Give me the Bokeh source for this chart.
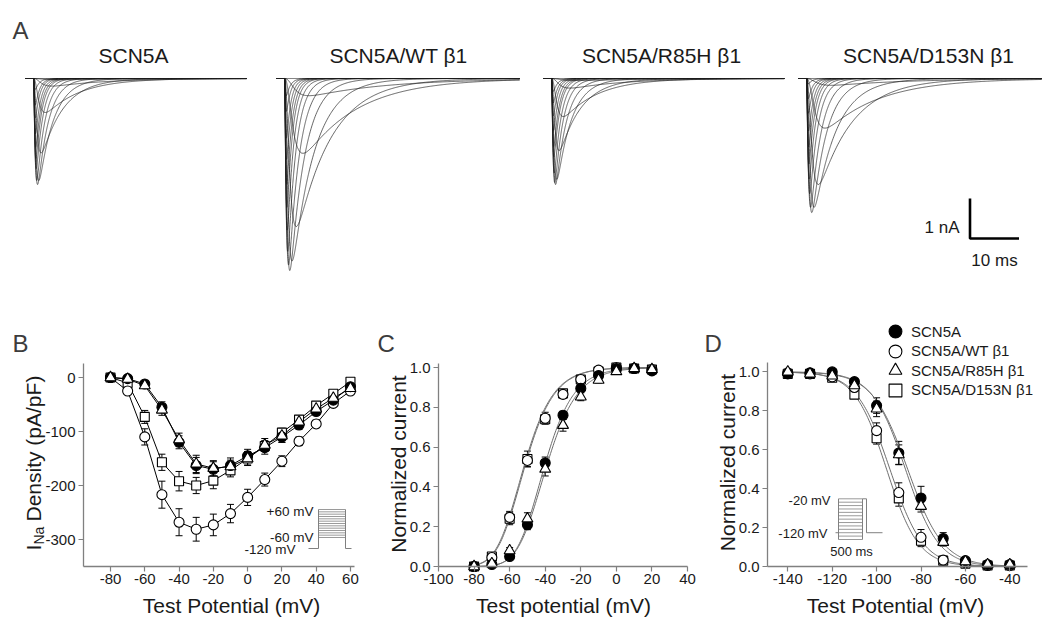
import numpy as np
from bokeh.plotting import figure
from bokeh.models import (ColumnDataSource, Label, Legend, LegendItem, Whisker, TeeHead,
                          FixedTicker, PrintfTickFormatter, Range1d, LinearAxis)
from bokeh.embed import file_html
from bokeh.resources import INLINE

FONT = "Liberation Sans"

# ---------------------------------------------------------------- data
groups = ["SCN5A", "SCN5A/WT β1", "SCN5A/R85H β1", "SCN5A/D153N β1"]

# Panel A: test steps (mV) and peak inward current of each trace (nA)
trace_steps = [-80, -70, -60, -50, -40, -30, -20, -10, 0, 10, 20, 30, 40, 50, 60]
peak_scn5a = [0, 0.03, 0.19, 0.85, 1.86, 2.55, 2.65, 2.55, 2.25, 2.00, 1.72, 1.38, 0.98, 0.66, 0.27]
peak_wt = [0, 0.43, 1.87, 3.70, 4.56, 4.80, 4.66, 4.32, 3.79, 3.22, 2.64, 2.02, 1.49, 0.82, 0.43]
peak_r85h = [0, 0.05, 0.24, 0.95, 1.80, 2.52, 2.65, 2.60, 2.36, 1.96, 1.70, 1.30, 0.93, 0.61, 0.32]
peak_d153n = [0, 0.17, 1.24, 2.65, 3.22, 3.35, 3.22, 2.88, 2.51, 2.14, 1.71, 1.31, 0.87, 0.50, 0.13]
# activation / inactivation time constants per step (ms)
tau_m = [1.6, 1.4, 1.1, 0.7, 0.45, 0.32, 0.25, 0.2, 0.17, 0.15, 0.14, 0.13, 0.12, 0.12, 0.12]
tau_h = [20, 16, 11, 7, 4.5, 3, 2.2, 1.7, 1.4, 1.2, 1.1, 1.0, 0.9, 0.85, 0.8]
sweep_ms = [43.5, 48, 47.5, 48]

# Panel B: current density (pA/pF)
iv_v = [-80, -70, -60, -50, -40, -30, -20, -10, 0, 10, 20, 30, 40, 50, 60]
iv_scn5a = [0, -2, -12, -55, -120, -163, -170, -163, -145, -130, -110, -88, -63, -42, -17]
iv_scn5a_err = [2, 3, 5, 10, 12, 15, 14, 14, 12, 12, 10, 8, 7, 6, 6]
iv_wt = [0, -25, -110, -217, -268, -281, -273, -252, -222, -189, -155, -118, -86, -48, -25]
iv_wt_err = [2, 5, 15, 25, 25, 22, 20, 17, 15, 12, 10, 8, 7, 6, 5]
iv_r85h = [0, -3, -15, -60, -115, -160, -168, -165, -150, -125, -108, -82, -58, -38, -20]
iv_r85h_err = [2, 3, 5, 10, 12, 16, 14, 12, 13, 12, 12, 8, 7, 6, 6]
iv_d153n = [0, -10, -73, -157, -192, -200, -191, -172, -150, -127, -102, -78, -52, -30, -8]
iv_d153n_err = [2, 4, 12, 15, 18, 15, 15, 12, 12, 10, 8, 7, 6, 6, 5]

# Panel C: normalized conductance (activation)
act_v = [-80, -70, -60, -50, -40, -30, -20, -10, 0, 10, 20]
act_scn5a = [0.0, 0.01, 0.05, 0.21, 0.52, 0.76, 0.895, 0.96, 0.995, 0.995, 0.983]
act_scn5a_err = [0.005, 0.01, 0.01, 0.025, 0.03, 0.02, 0.015, 0.01, 0.01, 0.01, 0.01]
act_wt = [0.0, 0.045, 0.247, 0.533, 0.745, 0.865, 0.94, 0.987, 1.0, 0.995, 0.99]
act_wt_err = [0.005, 0.01, 0.03, 0.03, 0.03, 0.02, 0.015, 0.01, 0.01, 0.01, 0.01]
act_r85h = [0.0, 0.015, 0.08, 0.24, 0.49, 0.71, 0.853, 0.937, 0.98, 0.995, 0.99]
act_r85h_err = [0.005, 0.01, 0.015, 0.03, 0.035, 0.03, 0.02, 0.015, 0.01, 0.01, 0.01]
act_d153n = [0.0, 0.05, 0.24, 0.54, 0.74, 0.87, 0.94, 0.98, 1.0, 0.995, 0.99]
act_d153n_err = [0.005, 0.01, 0.03, 0.04, 0.02, 0.015, 0.01, 0.01, 0.01, 0.01, 0.01]
# Boltzmann (m^3) fit parameters: V (mV), slope k (mV)
act_fit_v = [-54.0, -65.0, -53.5, -65.5]
act_fit_k = [10.0, 10.0, 10.5, 10.0]

# Panel D: steady-state inactivation
inact_v = [-140, -130, -120, -110, -100, -90, -80, -70, -60, -50, -40]
inact_scn5a = [0.99, 0.995, 1.0, 0.95, 0.827, 0.583, 0.352, 0.144, 0.03, 0.01, 0.01]
inact_scn5a_err = [0.01, 0.01, 0.01, 0.015, 0.04, 0.06, 0.06, 0.03, 0.01, 0.005, 0.005]
inact_wt = [0.995, 0.99, 0.975, 0.92, 0.698, 0.38, 0.15, 0.033, 0.02, 0.005, 0.005]
inact_wt_err = [0.01, 0.01, 0.01, 0.02, 0.04, 0.05, 0.04, 0.02, 0.01, 0.005, 0.005]
inact_r85h = [1.0, 0.99, 0.98, 0.93, 0.81, 0.575, 0.31, 0.125, 0.025, 0.01, 0.01]
inact_r85h_err = [0.01, 0.01, 0.01, 0.02, 0.04, 0.05, 0.03, 0.02, 0.01, 0.005, 0.005]
inact_d153n = [0.99, 0.99, 0.97, 0.883, 0.659, 0.35, 0.132, 0.03, 0.015, 0.005, 0.005]
inact_d153n_err = [0.01, 0.01, 0.015, 0.02, 0.03, 0.04, 0.03, 0.01, 0.01, 0.005, 0.005]
inact_fit_vhalf = [-86.0, -94.0, -87.0, -95.5]
inact_fit_k = [8.0, 7.5, 7.5, 7.2]

# inset protocols (mV)
protocol_b_steps = list(range(-60, 61, 10))
protocol_d_pre = list(range(-140, -19, 10))

# ---------------------------------------------------------------- canvas
W, H = 1048, 625
markers = ["circle", "circle", "triangle", "square"]
fills = ["black", "white", "white", "white"]
msizes = [10, 10, 11, 9]
AX = "#808080"
TXT = "#1a1a1a"
LET = "#3c3c3c"
INS = "#808080"


def xr(v0, X0, ppu):
    return Range1d(v0 - X0 / ppu, v0 + (W - X0) / ppu)


def yr(v0, Y0, ppu):
    return Range1d(v0 - (H - Y0) / ppu, v0 + Y0 / ppu)


p = figure(width=W, height=H, x_range=Range1d(0, W), y_range=Range1d(0, H),
           x_axis_type=None, y_axis_type=None, output_backend="svg",
           toolbar_location=None, tools="",
           min_border_left=0, min_border_right=0, min_border_top=0, min_border_bottom=0)
p.outline_line_color = None
p.background_fill_color = "white"

# panel scales (value at a reference pixel, pixels per unit)
A_PX_MS, A_PX_NA = 4.9, 40.0
p.extra_x_ranges = {"a": xr(0, 0, A_PX_MS), "b": xr(-80, 110, 1.714),
                    "c": xr(-100, 438, 1.7786), "d": xr(-140, 787.3, 2.22)}
p.extra_y_ranges = {"a": yr(0, 78, A_PX_NA), "b": yr(0, 377, 0.54),
                    "c": yr(0, 566, 199.0), "d": yr(0, 566, 194.6)}


def bv(X): return -80 + (X - 110) / 1.714
def bval(Y): return (377 - Y) / 0.54
def cv(X): return -100 + (X - 438) / 1.7786
def cval(Y): return (566 - Y) / 199.0
def dv(X): return -140 + (X - 787.3) / 2.22
def dval(Y): return (566 - Y) / 194.6
def Yu(Y): return H - Y


def lab(text, X, Y, size, angle=0.0, align="left", baseline="alphabetic", color=TXT):
    p.add_layout(Label(x=X, y=Yu(Y), text=text, text_font=FONT, text_font_size=size,
                       text_color=color, text_align=align, text_baseline=baseline,
                       angle=angle))


def axes(name, xloc, xbounds, xticks, yloc, ybounds, yticks, xfmt, yfmt):
    xa = LinearAxis(x_range_name=name, y_range_name=name, fixed_location=xloc, bounds=xbounds,
                    ticker=FixedTicker(ticks=xticks), formatter=PrintfTickFormatter(format=xfmt))
    ya = LinearAxis(x_range_name=name, y_range_name=name, fixed_location=yloc, bounds=ybounds,
                    ticker=FixedTicker(ticks=yticks), formatter=PrintfTickFormatter(format=yfmt))
    for ax in (xa, ya):
        ax.axis_line_color = AX
        ax.axis_line_width = 1.3
        ax.major_tick_line_color = AX
        ax.major_tick_line_width = 1.2
        ax.minor_tick_line_color = None
        ax.major_tick_out = 5
        ax.major_tick_in = 0
        ax.major_label_text_font = FONT
        ax.major_label_text_font_size = "15px"
        ax.major_label_text_color = TXT
    xa.major_label_standoff = 2
    ya.major_label_standoff = 3
    p.add_layout(xa, "below")
    p.add_layout(ya, "left")


def points(name, x, ys, errs, order=(3, 1, 0, 2)):
    rends = {}
    for i in order:
        y = np.array(ys[i], dtype=float)
        e = np.array(errs[i], dtype=float)
        src = ColumnDataSource(dict(x=x, y=y, up=y + e, lo=y - e))
        p.add_layout(Whisker(source=src, base="x", upper="up", lower="lo",
                             dimension="height", line_color="black", line_width=1,
                             x_range_name=name, y_range_name=name,
                             upper_head=TeeHead(size=7, line_color="black", line_width=1),
                             lower_head=TeeHead(size=7, line_color="black", line_width=1)))
    for i in order:
        src = ColumnDataSource(dict(x=x, y=ys[i]))
        rends[i] = p.scatter("x", "y", source=src, marker=markers[i], size=msizes[i],
                             fill_color=fills[i], line_color="black", line_width=1.1,
                             x_range_name=name, y_range_name=name)
    return rends


# ---------------------------------------------------------------- panel A
starts_ms = [33 / A_PX_MS, 284 / A_PX_MS, 551 / A_PX_MS, 806 / A_PX_MS]
peaks = [peak_scn5a, peak_wt, peak_r85h, peak_d153n]
for g in range(4):
    xs, ys = [], []
    for j, _v in enumerate(trace_steps):
        t = np.concatenate([np.linspace(0, 5, 260), np.linspace(5.1, sweep_ms[g], 260)])
        shape = (1 - np.exp(-t / tau_m[j])) ** 3 * np.exp(-t / tau_h[j])
        shape = shape / shape.max()
        cur = -peaks[g][j] * shape
        xs.append(list(np.concatenate([[starts_ms[g] - 1.6], starts_ms[g] + t])))
        ys.append(list(np.concatenate([[0.0], cur])))
    p.multi_line(xs, ys, line_color="#1e1e1e", line_width=0.75, line_alpha=0.9,
                 x_range_name="a", y_range_name="a")

title_cx = [133, 398, 661, 928]
for g in range(4):
    lab(groups[g], title_cx[g], 55, "21px", align="center")
lab("A", 12, 30, "24px", color=LET)

# scale bar: 10 ms x 1 nA
sb_t = 969.5 / A_PX_MS
sb_i = (78 - 238) / A_PX_NA
p.line([sb_t, sb_t, sb_t + 10], [sb_i + 1, sb_i, sb_i], line_color="black", line_width=2.6,
       x_range_name="a", y_range_name="a")
lab("1 nA", 959, 227, "17px", align="right")
lab("10 ms", 994, 260, "17px", align="center")

# ---------------------------------------------------------------- panel B
axes("b", bval(566), (bv(83), bv(354)), list(range(-80, 61, 20)),
     bv(83), (bval(566), bval(363)), [0, -100, -200, -300], "%d", "%d")
iv_sets = [iv_scn5a, iv_wt, iv_r85h, iv_d153n]
iv_errs = [iv_scn5a_err, iv_wt_err, iv_r85h_err, iv_d153n_err]
for i in range(4):
    p.line(iv_v, iv_sets[i], line_color="black", line_width=1, x_range_name="b", y_range_name="b")
points("b", iv_v, iv_sets, iv_errs)


def bstep(v):
    return Yu(537 - (v + 60) / 120 * 28)


for v in protocol_b_steps:
    p.line([318, 345], [bstep(v), bstep(v)], line_color=INS, line_width=0.8)
p.line([308, 318, 318], [Yu(548), Yu(548), bstep(60)], line_color=INS, line_width=1)
p.line([345, 345, 351], [bstep(60), Yu(548), Yu(548)], line_color=INS, line_width=1)
lab("+60 mV", 313, 511, "13.5px", align="right", baseline="middle")
lab("-60 mV", 313, 537, "13.5px", align="right", baseline="middle")
lab("-120 mV", 295, 549, "13.5px", align="right", baseline="middle")

lab("B", 12, 343, "24px", color=LET)
lab("Test Potential (mV)", 231, 605, "21px", align="center")
lab("I", 33, 550, "21px", angle=np.pi / 2)
lab("Na", 38, 544, "14px", angle=np.pi / 2)
lab("Density (pA/pF)", 33, 521, "21px", angle=np.pi / 2)

# ---------------------------------------------------------------- panel C
axes("c", 0, (-100, 40), list(range(-100, 41, 20)),
     -100, (0, cval(363)), [0, 0.2, 0.4, 0.6, 0.8, 1.0], "%d", "%.1f")
act_sets = [act_scn5a, act_wt, act_r85h, act_d153n]
act_errs = [act_scn5a_err, act_wt_err, act_r85h_err, act_d153n_err]
vv = np.linspace(-80, 20, 201)
for i in range(4):
    m = 1 / (1 + np.exp((act_fit_v[i] - vv) / act_fit_k[i]))
    p.line(vv, m ** 3, line_color="#6e6e6e", line_width=1, x_range_name="c", y_range_name="c")
points("c", act_v, act_sets, act_errs)

lab("C", 377, 343, "24px", color=LET)
lab("Test potential (mV)", 563, 605, "21px", align="center")
lab("Normalized current", 398, 463.5, "21px", angle=np.pi / 2, align="center")

# ---------------------------------------------------------------- panel D
axes("d", 0, (dv(767), dv(1027)), list(range(-140, -39, 20)),
     dv(767), (0, dval(362)), [0, 0.2, 0.4, 0.6, 0.8, 1.0], "%d", "%.1f")
inact_sets = [inact_scn5a, inact_wt, inact_r85h, inact_d153n]
inact_errs = [inact_scn5a_err, inact_wt_err, inact_r85h_err, inact_d153n_err]
vv = np.linspace(-140, -40, 201)
for i in range(4):
    h = 1 / (1 + np.exp((vv - inact_fit_vhalf[i]) / inact_fit_k[i]))
    p.line(vv, h, line_color="#6e6e6e", line_width=1, x_range_name="d", y_range_name="d")
rd = points("d", inact_v, inact_sets, inact_errs)


def dpre(v):
    return Yu(539 - (v + 140) / 120 * 40.7)


for v in protocol_d_pre:
    p.line([838, 862], [dpre(v), dpre(v)], line_color=INS, line_width=0.8)
p.line([835, 838], [dpre(-120), dpre(-120)], line_color=INS, line_width=1)
p.line([838, 838], [dpre(-140), dpre(-20)], line_color=INS, line_width=1)
p.line([862, 862, 866, 866, 882], [dpre(-140), dpre(-20), dpre(-20), dpre(-120), dpre(-120)],
       line_color=INS, line_width=1)
lab("-20 mV", 830, 500, "13px", align="right", baseline="middle")
lab("-120 mV", 827, 533, "13px", align="right", baseline="middle")
lab("500 ms", 851, 551, "13px", align="center", baseline="middle")

# legend: one entry per row, rows 19.5 px apart
legend_rows_y = [331, 350.5, 370, 389.5]
for i in range(4):
    lg = Legend(items=[LegendItem(label=groups[i], renderers=[rd[i]])],
                location=(879, H - (legend_rows_y[i] + 16)), glyph_width=32, glyph_height=32,
                spacing=0, padding=0, margin=0, label_standoff=0,
                label_text_font=FONT, label_text_font_size="15px", label_text_color=TXT,
                border_line_alpha=0, background_fill_alpha=0)
    p.add_layout(lg)

lab("D", 704, 343, "24px", color=LET)
lab("Test Potential (mV)", 895, 605, "21px", align="center")
lab("Normalized current", 727, 462, "21px", angle=np.pi / 2, align="center")

open("out.html", "w").write(file_html(p, INLINE))
